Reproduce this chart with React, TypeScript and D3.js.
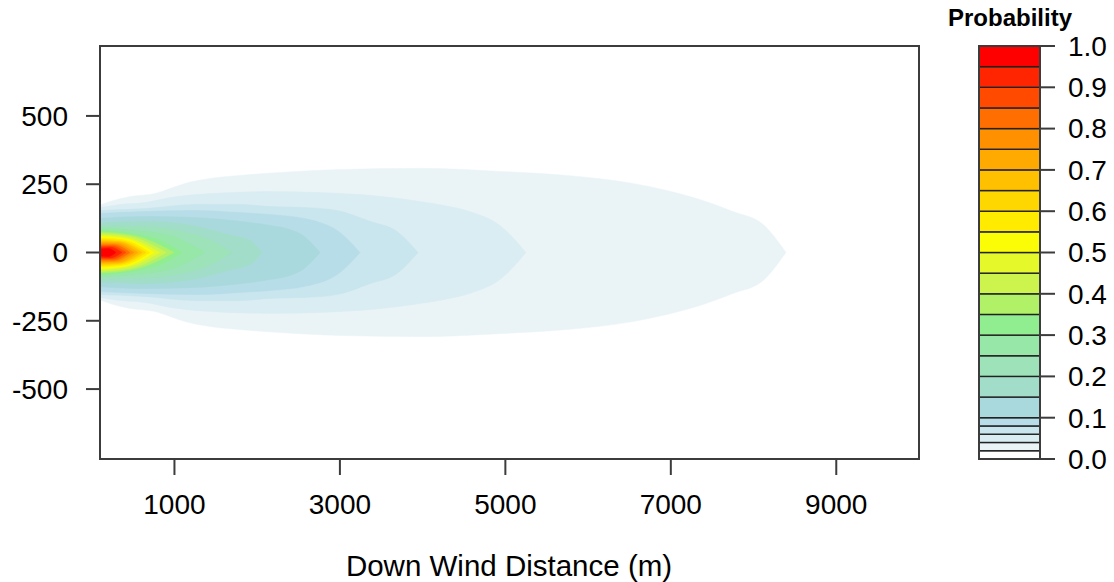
import React from 'react';
import * as d3 from 'd3';

// contour levels of the probability field and the fill of each band between them
const levels = [0, 0.02, 0.04, 0.06, 0.08, 0.1, 0.15, 0.2, 0.25, 0.3, 0.35, 0.4, 0.45, 0.5, 0.55, 0.6, 0.65, 0.7, 0.75, 0.8, 0.85, 0.9, 0.95, 1.0];
const bandColors = [
  '#FFFFFF', '#EAF4F7', '#DAEDF2', '#C9E5ED', '#B7DDE8', '#A9D9DC', '#A2DDCA', '#9DE2B9',
  '#96E7A8', '#90EE90', '#B0F168', '#CCF44C', '#E4F82A', '#FAFD05', '#FFEB00', '#FFD700',
  '#FFC000', '#FFAA00', '#FF9100', '#FF6E00', '#FF4A00', '#FF2500', '#FF0000',
];

const xTicks = [1000, 3000, 5000, 7000, 9000];
const yTicks = [500, 250, 0, -250, -500];
const keyTicks = [0, 0.1, 0.2, 0.3, 0.4, 0.5, 0.6, 0.7, 0.8, 0.9, 1.0];

// contour outlines: [down wind distance (m), half width (m)]
const edge02 = [[100, 174], [221, 187], [463, 205], [765, 216], [946, 234], [1127, 253], [1430, 271], [1853, 284], [2276, 293], [3001, 304], [3968, 308], [4935, 297], [5745, 282], [6543, 253], [6953, 227], [7352, 194], [7751, 150], [8114, 103], [8392, 0]];
const edge04 = [[100, 165], [342, 176], [644, 183], [946, 201], [1248, 212], [2155, 223], [3243, 212], [3968, 187], [4330, 168], [4608, 146], [4935, 99], [5249, 0]];
const edge06 = [[100, 154], [644, 161], [1248, 176], [1792, 176], [2155, 168], [2554, 165], [2965, 154], [3363, 114], [3690, 77], [3944, 0]];
const edge08 = [[100, 143], [644, 150], [1248, 154], [1792, 146], [2155, 139], [2554, 125], [2759, 110], [2965, 81], [3243, 0]];
const edge10 = [[100, 125], [644, 132], [1248, 128], [1792, 114], [2155, 99], [2397, 84], [2554, 62], [2759, 0]];
const edge15 = [[100, 108], [644, 114], [1248, 97], [1671, 64], [1913, 44], [2058, 0]];
const edge20 = [[100, 97], [583, 95], [1067, 79], [1430, 46], [1696, 0]];
const edge25 = [[100, 90], [583, 79], [1007, 57], [1188, 31], [1369, 0]];
const edge30 = [[100, 83], [583, 64], [825, 46], [1091, 0]];
const edge35 = [[100, 75], [523, 61], [994, 0]];
const edge40 = [[100, 70], [463, 59], [898, 0]];
const edge45 = [[100, 64], [438, 53], [825, 0]];
const edge50 = [[100, 59], [414, 50], [753, 0]];
const edge55 = [[100, 53], [390, 46], [704, 0]];
const edge60 = [[100, 48], [366, 42], [656, 0]];
const edge65 = [[100, 43], [342, 39], [608, 0]];
const edge70 = [[100, 38], [318, 36], [559, 0]];
const edge75 = [[100, 34], [293, 32], [511, 0]];
const edge80 = [[100, 28], [269, 28], [463, 0]];
const edge85 = [[100, 24], [245, 24], [414, 0]];
const edge90 = [[100, 18], [221, 20], [366, 0]];
const edge95 = [[100, 13], [197, 15], [293, 0]];

const outlines = [edge02, edge04, edge06, edge08, edge10, edge15, edge20, edge25, edge30, edge35, edge40, edge45, edge50, edge55, edge60, edge65, edge70, edge75, edge80, edge85, edge90, edge95];

const font = 'Liberation Sans, Arial, sans-serif';

export default function App() {
  const left = 100, right = 919, top = 46, bottom = 459;
  const x = d3.scaleLinear().domain([100, 10000]).range([left, right]);
  const y = d3.scaleLinear().domain([-756, 756]).range([bottom, top]);
  const key = d3.scaleLinear().domain([0, 1]).range([bottom, top]);

  const area = d3.area<number[]>()
    .x(d => x(d[0]))
    .y0(d => y(-d[1]))
    .y1(d => y(d[1]))
    .curve(d3.curveMonotoneX);

  const keyLeft = 979, keyRight = 1040;

  return (
    <svg width={1114} height={582} style={{ position: 'absolute', left: 0, top: 0 }} fontFamily={font}>
      <defs>
        <clipPath id="plotClip">
          <rect x={left} y={top} width={right - left} height={bottom - top} />
        </clipPath>
      </defs>

      {/* filled contours, lowest level first */}
      <g clipPath="url(#plotClip)">
        {outlines.map((pts, i) => (
          <path key={i} d={area(pts) || ''} fill={bandColors[i + 1]} stroke={bandColors[i + 1]} strokeWidth={0.5} />
        ))}
      </g>

      <rect x={left} y={top} width={right - left} height={bottom - top} fill="none" stroke="#3c3c3c" strokeWidth={2} />

      {/* y axis */}
      {yTicks.map(t => (
        <g key={t}>
          <line x1={left - 14} x2={left} y1={y(t)} y2={y(t)} stroke="#3c3c3c" strokeWidth={2} />
          <text x={68} y={y(t)} dy="0.35em" textAnchor="end" fontSize={28} fill="#000">{t}</text>
        </g>
      ))}

      {/* x axis */}
      {xTicks.map(t => (
        <g key={t}>
          <line x1={x(t)} x2={x(t)} y1={bottom} y2={bottom + 16} stroke="#3c3c3c" strokeWidth={2} />
          <text x={x(t)} y={514} textAnchor="middle" fontSize={28} fill="#000">{t}</text>
        </g>
      ))}
      <text x={509} y={576} textAnchor="middle" fontSize={29.5} fill="#000">Down Wind Distance (m)</text>

      {/* colour key */}
      <text x={1010} y={26} textAnchor="middle" fontSize={24} fontWeight="bold" fill="#000">Probability</text>
      {bandColors.map((c, i) => (
        <rect key={i} x={keyLeft} y={key(levels[i + 1])} width={keyRight - keyLeft}
          height={key(levels[i]) - key(levels[i + 1])} fill={c} stroke="#222" strokeWidth={1.4} />
      ))}
      <rect x={keyLeft} y={top} width={keyRight - keyLeft} height={bottom - top} fill="none" stroke="#3c3c3c" strokeWidth={2} />
      {keyTicks.map(t => (
        <g key={t}>
          <line x1={keyRight} x2={keyRight + 15} y1={key(t)} y2={key(t)} stroke="#3c3c3c" strokeWidth={2} />
          <text x={1068} y={key(t)} dy="0.35em" fontSize={28} fill="#000">{t.toFixed(1)}</text>
        </g>
      ))}
    </svg>
  );
}
